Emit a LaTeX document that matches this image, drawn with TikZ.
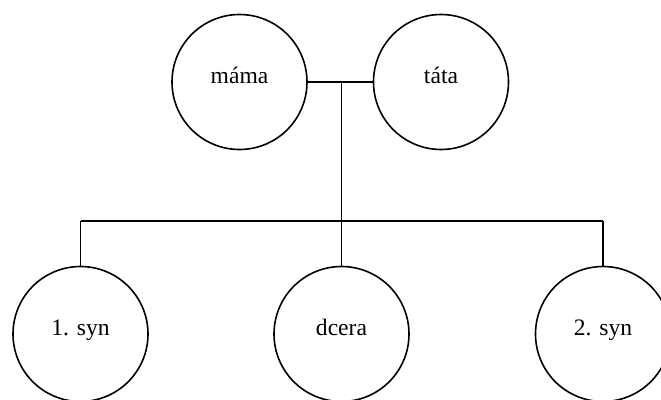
\documentclass[tikz,border=0pt]{standalone}
\usepackage{fontspec}
\setmainfont{Liberation Serif}
\begin{document}
\begin{tikzpicture}[x=1pt,y=-1pt,
  person/.style={circle,draw=black,line width=1.6pt,minimum size=135pt,inner sep=0pt,
    font=\fontsize{23.6pt}{26pt}\selectfont,text height=0.5em,text depth=0.3em},
  link/.style={draw=black,line width=1.6pt}]
\useasboundingbox (0,0) rectangle (661,399);
\node[person] (mama) at (239.5,82) {máma};
\node[person] (tata) at (441,82) {táta};
\node[person] (syn1) at (80.5,334) {1. syn};
\node[person] (dcera) at (341.5,334) {dcera};
\node[person] (syn2) at (603,334) {2. syn};
\coordinate (j) at (341.5,82);
\coordinate (b) at (341.5,221);
\coordinate (bl) at (80.5,221);
\coordinate (br) at (603,221);
\draw[link] (mama.east) -- (tata.west);
\draw[link] (j) -- (b);
\draw[link] (bl) -- (br);
\draw[link] (bl) -- (syn1.north);
\draw[link] (b) -- (dcera.north);
\draw[link] (br) -- (syn2.north);
\end{tikzpicture}
\end{document}
